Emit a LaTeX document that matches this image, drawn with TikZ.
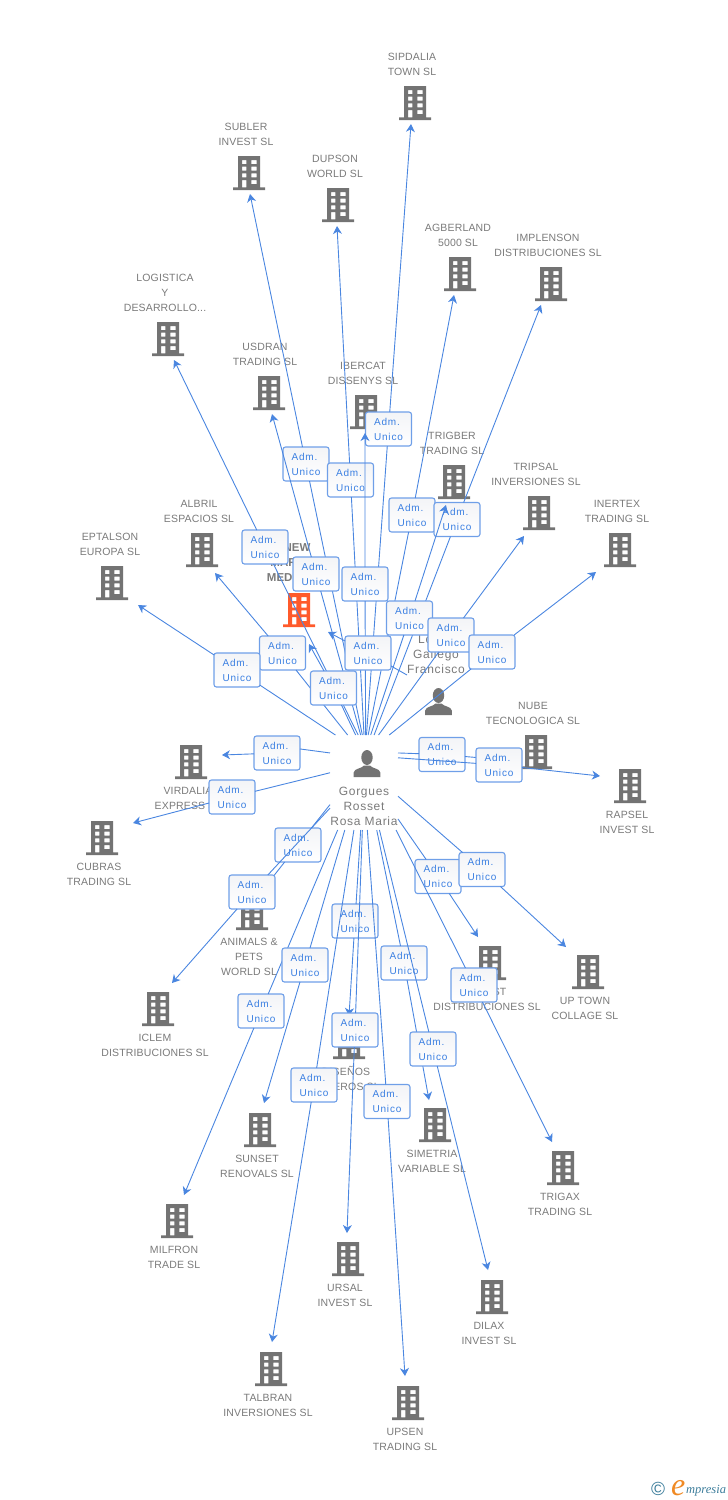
\documentclass[tikz,border=0pt]{standalone}
\usepackage{fontspec}
\setmainfont{Liberation Sans}
\newfontfamily\admfont[LetterSpace=8]{Liberation Sans}
\newfontfamily\namefont[LetterSpace=6]{Liberation Sans}
\newfontfamily\compfont[LetterSpace=1.5]{Liberation Sans}
\newfontfamily\logofont{Liberation Serif}
\usetikzlibrary{arrows.meta}
\definecolor{bldggray}{HTML}{737373}
\definecolor{bldgred}{HTML}{FF5A2B}
\definecolor{textgray}{HTML}{7A7A7A}
\definecolor{linkblue}{HTML}{4A86E0}
\definecolor{boxblue}{HTML}{6F9FE8}
\definecolor{admblue}{HTML}{3A7FE2}
\definecolor{boxtop}{HTML}{F3F4F7}
\definecolor{logoteal}{HTML}{3C7D9B}
\definecolor{logoorange}{HTML}{F08A24}
\tikzset{
 bldg/.style={minimum width=32pt,minimum height=34pt,inner sep=0pt,outer sep=0pt,
  path picture={\fill[#1,even odd rule,shift={(path picture bounding box.center)}]
   (-16,14.3) rectangle (16,17)
   (-11,-17) rectangle (11,14.3)
   (-7,-13) rectangle (-2.7,-9) (2.3,-13) rectangle (7.7,-9)
   (-7,-6.3) rectangle (-2.7,-2.3) (2.3,-6.3) rectangle (7.7,-2.3)
   (-7,0.3) rectangle (-2.7,4.3) (2.3,0.3) rectangle (7.7,4.3)
   (-7,7) rectangle (-2.7,14.3) (2.3,7) rectangle (7.7,11);}},
 person/.style={minimum width=28pt,minimum height=28pt,inner sep=0pt,outer sep=0pt,
  path picture={\fill[bldggray,shift={(path picture bounding box.center)}]
   (0,-6) ellipse (5.7 and 7.5)
   (-13.3,13.5) -- (-13.3,9) .. controls (-13,5) and (-5,5) .. (-3,2) -- (3,2)
   .. controls (5,5) and (13,5) .. (13.3,9) -- (13.3,13.5) -- cycle;}},
 comp/.style={inner sep=0pt,align=center,text=textgray,font=\compfont\fontsize{10.5}{15}\selectfont},
 pname/.style={inner sep=0pt,align=center,text=textgray,font=\namefont\fontsize{12}{15}\selectfont},
 adm/.style={draw=boxblue,line width=1.1pt,rounded corners=2.5pt,top color=boxtop,bottom color=white,
  minimum width=46pt,minimum height=34pt,inner sep=0pt,outer sep=0pt,align=left,text=admblue,
  font=\admfont\fontsize{10}{15}\selectfont},
 link/.style={draw=linkblue,line width=0.9pt,-{Stealth[length=8pt,width=9pt,inset=2.5pt]}}
}
\begin{document}
\begin{tikzpicture}[x=1pt,y=-1pt]
 \useasboundingbox (0,0) rectangle (728,1500);
 \node[bldg=bldggray] (sipdalia) at (415,103) {};
 \node[comp] (txtsipdalia) at (412,64.5) {SIPDALIA\\TOWN SL};
 \node[bldg=bldggray] (subler) at (249,173) {};
 \node[comp] (txtsubler) at (246,134.5) {SUBLER\\INVEST SL};
 \node[bldg=bldggray] (dupson) at (338,205) {};
 \node[comp] (txtdupson) at (335,166.5) {DUPSON\\WORLD SL};
 \node[bldg=bldggray] (agberland) at (460,274) {};
 \node[comp] (txtagberland) at (458,235.5) {AGBERLAND\\5000 SL};
 \node[bldg=bldggray] (implenson) at (551,284) {};
 \node[comp] (txtimplenson) at (548,245.5) {IMPLENSON\\DISTRIBUCIONES SL};
 \node[bldg=bldggray] (logistica) at (168,339) {};
 \node[comp] (txtlogistica) at (165,293) {LOGISTICA\\Y\\DESARROLLO...};
 \node[bldg=bldggray] (usdran) at (269,393) {};
 \node[comp] (txtusdran) at (265,354.5) {USDRAN\\TRADING SL};
 \node[bldg=bldggray] (ibercat) at (366,412) {};
 \node[comp] (txtibercat) at (363,373.5) {IBERCAT\\DISSENYS SL};
 \node[bldg=bldggray] (trigber) at (454,482) {};
 \node[comp] (txttrigber) at (452,443.5) {TRIGBER\\TRADING SL};
 \node[bldg=bldggray] (tripsal) at (539,513) {};
 \node[comp] (txttripsal) at (536,474.5) {TRIPSAL\\INVERSIONES SL};
 \node[bldg=bldggray] (inertex) at (620,550) {};
 \node[comp] (txtinertex) at (617,511.5) {INERTEX\\TRADING SL};
 \node[bldg=bldggray] (albril) at (202,550) {};
 \node[comp] (txtalbril) at (199,511.5) {ALBRIL\\ESPACIOS SL};
 \node[bldg=bldggray] (eptalson) at (112,583) {};
 \node[comp] (txteptalson) at (110,544.5) {EPTALSON\\EUROPA SL};
 \node[bldg=bldgred] (newmar) at (299,610) {};
 \node[comp,font=\bfseries\fontsize{11.5}{15}\selectfont] (txtnewmar) at (297,563) {NEW\\MARINES\\MEDITERR};
 \node[bldg=bldggray] (nube) at (536,752) {};
 \node[comp] (txtnube) at (533,713.5) {NUBE\\TECNOLOGICA SL};
 \node[bldg=bldggray] (rapsel) at (630,786) {};
 \node[comp] (txtrapsel) at (627,822.5) {RAPSEL\\INVEST SL};
 \node[bldg=bldggray] (virdalia) at (191,762) {};
 \node[comp] (txtvirdalia) at (188,798.5) {VIRDALIA\\EXPRESS SL};
 \node[bldg=bldggray] (cubras) at (102,838) {};
 \node[comp] (txtcubras) at (99,874.5) {CUBRAS\\TRADING SL};
 \node[bldg=bldggray] (animals) at (252,913) {};
 \node[comp] (txtanimals) at (249,957) {ANIMALS \&\\PETS\\WORLD SL};
 \node[bldg=bldggray] (iclem) at (158,1009) {};
 \node[comp] (txticlem) at (155,1045.5) {ICLEM\\DISTRIBUCIONES SL};
 \node[bldg=bldggray] (invest) at (490,963) {};
 \node[comp] (txtinvest) at (487,999.5) {INVEST\\DISTRIBUCIONES SL};
 \node[bldg=bldggray] (uptown) at (588,972) {};
 \node[comp] (txtuptown) at (585,1008.5) {UP TOWN\\COLLAGE SL};
 \node[bldg=bldggray] (disenos) at (349,1042) {};
 \node[comp] (txtdisenos) at (346,1078.5) {DISEÑOS\\JOYEROS SL};
 \node[bldg=bldggray] (sunset) at (260,1130) {};
 \node[comp] (txtsunset) at (257,1166.5) {SUNSET\\RENOVALS SL};
 \node[bldg=bldggray] (simetria) at (435,1125) {};
 \node[comp] (txtsimetria) at (432,1161.5) {SIMETRIA\\VARIABLE SL};
 \node[bldg=bldggray] (trigax) at (563,1168) {};
 \node[comp] (txttrigax) at (560,1204.5) {TRIGAX\\TRADING SL};
 \node[bldg=bldggray] (milfron) at (177,1221) {};
 \node[comp] (txtmilfron) at (174,1257.5) {MILFRON\\TRADE SL};
 \node[bldg=bldggray] (ursal) at (348,1259) {};
 \node[comp] (txtursal) at (345,1295.5) {URSAL\\INVEST SL};
 \node[bldg=bldggray] (dilax) at (492,1297) {};
 \node[comp] (txtdilax) at (489,1333.5) {DILAX\\INVEST SL};
 \node[bldg=bldggray] (talbran) at (271,1369) {};
 \node[comp] (txttalbran) at (268,1405.5) {TALBRAN\\INVERSIONES SL};
 \node[bldg=bldggray] (upsen) at (408,1403) {};
 \node[comp] (txtupsen) at (405,1439.5) {UPSEN\\TRADING SL};
 \node[person] (rosaicon) at (367,763.5) {};
 \node[pname] (rosatxt) at (364,806) {Gorgues\\Rosset\\Rosa Maria};
 \node[person] (gallegoicon) at (438.5,701.5) {};
 \node[pname] (gallegotxt) at (436,654) {Lopez\\Gallego\\Francisco};
 \node[minimum width=68pt,minimum height=95pt,inner sep=0pt,outer sep=0pt] (rosa) at (364,782.5) {};
 \coordinate (gallego) at (407,675);
 \coordinate (tipsipdalia) at (411,124);
 \coordinate (tipsubler) at (250,194);
 \coordinate (tipdupson) at (337,226);
 \coordinate (tipagberland) at (454,295);
 \coordinate (tipimplenson) at (541,305);
 \coordinate (tiplogistica) at (174,360);
 \coordinate (tipusdran) at (272,414);
 \coordinate (tipibercat) at (365,433);
 \coordinate (tiptrigber) at (446,505);
 \coordinate (tiptripsal) at (524,536);
 \coordinate (tipinertex) at (596,572);
 \coordinate (tipalbril) at (215,573);
 \coordinate (tipeptalson) at (138,605);
 \coordinate (tipnewmar) at (309,644);
 \coordinate (tipgallego) at (328,632);
 \coordinate (tipnube) at (505,760);
 \coordinate (tiprapsel) at (600,776);
 \coordinate (tipvirdalia) at (222,755);
 \coordinate (tipcubras) at (133,823);
 \coordinate (tipanimals) at (265,887);
 \coordinate (tipiclem) at (172,983);
 \coordinate (tipinvest) at (478,937);
 \coordinate (tipuptown) at (566,947);
 \coordinate (tipdisenos) at (349,1016);
 \coordinate (tipsunset) at (264,1103);
 \coordinate (tipsimetria) at (429,1100);
 \coordinate (tiptrigax) at (552,1142);
 \coordinate (tipmilfron) at (184,1195);
 \coordinate (tipursal) at (347,1233);
 \coordinate (tipdilax) at (488,1270);
 \coordinate (tiptalbran) at (272,1342);
 \coordinate (tipupsen) at (405,1376);
 \node[adm] (admsipdalia) at (388.5,429) {Adm.\\Unico};
 \draw[link] (rosa.87) -- (admsipdalia) -- (tipsipdalia);
 \node[adm] (admsubler) at (306,464) {Adm.\\Unico};
 \draw[link] (rosa.92.4) -- (admsubler) -- (tipsubler);
 \node[adm] (admdupson) at (350.5,480) {Adm.\\Unico};
 \draw[link] (rosa.90) -- (admdupson) -- (tipdupson);
 \node[adm] (admagberland) at (412,515) {Adm.\\Unico};
 \draw[link] (rosa.85.2) -- (admagberland) -- (tipagberland);
 \node[adm] (admimplenson) at (457,519.5) {Adm.\\Unico};
 \draw[link] (rosa.78.1) -- (admimplenson) -- (tipimplenson);
 \node[adm] (admlogistica) at (265,547) {Adm.\\Unico};
 \draw[link] (rosa.97.2) -- (admlogistica) -- (tiplogistica);
 \node[adm] (admusdran) at (316,574) {Adm.\\Unico};
 \draw[link] (rosa.94.8) -- (admusdran) -- (tipusdran);
 \node[adm] (admibercat) at (365,584) {Adm.\\Unico};
 \draw[link] (rosa.88.8) -- (admibercat) -- (tipibercat);
 \node[adm] (admtrigber) at (409.5,618) {Adm.\\Unico};
 \draw[link] (rosa.82.8) -- (admtrigber) -- (tiptrigber);
 \node[adm] (admtripsal) at (451,635) {Adm.\\Unico};
 \draw[link] (rosa.73.6) -- (admtripsal) -- (tiptripsal);
 \node[adm] (adminertex) at (492,652) {Adm.\\Unico};
 \draw[link] (rosa.62.2) -- (adminertex) -- (tipinertex);
 \node[adm] (admalbril) at (282.5,653) {Adm.\\Unico};
 \draw[link] (rosa.109.7) -- (admalbril) -- (tipalbril);
 \node[adm] (admeptalson) at (237,670) {Adm.\\Unico};
 \draw[link] (rosa.121.4) -- (admeptalson) -- (tipeptalson);
 \node[adm] (admnewmar) at (333.5,688) {Adm.\\Unico};
 \draw[link] (rosa.100.7) -- (admnewmar) -- (tipnewmar);
 \node[adm] (admgallego) at (368,653) {Adm.\\Unico};
 \draw[link] (gallego) -- (admgallego) -- (tipgallego);
 \node[adm] (admvirdalia) at (277,753) {Adm.\\Unico};
 \draw[link] (rosa.139) -- (admvirdalia.10) (admvirdalia) -- (tipvirdalia);
 \node[adm] (admcubras) at (232,797) {Adm.\\Unico};
 \draw[link] (rosa.164.4) -- (admcubras) -- (tipcubras);
 \node[adm] (admnube) at (442,754.5) {Adm.\\Unico};
 \draw[link] (rosa.41) -- (admnube) -- (tipnube);
 \node[adm] (admrapsel) at (499,765) {Adm.\\Unico};
 \draw[link] (rosa.36.9) -- (admrapsel) -- (tiprapsel);
 \node[adm] (admanimals) at (298,845) {Adm.\\Unico};
 \draw[link] (rosa.213.5) -- (admanimals) -- (tipanimals);
 \node[adm] (admiclem) at (252,892) {Adm.\\Unico};
 \draw[link] (rosa.217.9) -- (admiclem) -- (tipiclem);
 \node[adm] (admmilfron) at (261,1011) {Adm.\\Unico};
 \draw[link] (rosa.241.3) -- (admmilfron) -- (tipmilfron);
 \node[adm] (admsunset) at (305,965) {Adm.\\Unico};
 \draw[link] (rosa.248.2) -- (admsunset) -- (tipsunset);
 \node[adm] (admdisenos) at (355,921) {Adm.\\Unico};
 \draw[link] (rosa.266.4) -- (admdisenos) -- (tipdisenos);
 \node[adm] (admursal) at (355,1030) {Adm.\\Unico};
 \draw[link] (rosa.268.2) -- (admursal) -- (tipursal);
 \node[adm] (admtalbran) at (314,1085) {Adm.\\Unico};
 \draw[link] (rosa.258.1) -- (admtalbran) -- (tiptalbran);
 \node[adm] (admupsen) at (387,1101.5) {Adm.\\Unico};
 \draw[link] (rosa.274.8) -- (admupsen) -- (tipupsen);
 \node[adm] (admsimetria) at (404,963) {Adm.\\Unico};
 \draw[link] (rosa.285.3) -- (admsimetria) -- (tipsimetria);
 \node[adm] (admdilax) at (433,1049) {Adm.\\Unico};
 \draw[link] (rosa.288.6) -- (admdilax) -- (tipdilax);
 \node[adm] (adminvest) at (438,876.5) {Adm.\\Unico};
 \draw[link] (rosa.313) -- (adminvest) -- (tipinvest);
 \node[adm] (admtrigax) at (474,985) {Adm.\\Unico};
 \draw[link] (rosa.304) -- (admtrigax) -- (tiptrigax);
 \node[adm] (admuptown) at (482,869.5) {Adm.\\Unico};
 \draw[link] (rosa.338.3) -- (admuptown) -- (tipuptown);
 \node[inner sep=0pt,text=logoteal,font=\fontsize{19}{19}\selectfont] (logoc) at (658,1489) {©};
 \node[inner sep=0pt,text=logoorange,font=\logofont\itshape\fontsize{32}{32}\selectfont,anchor=base west] (logoe) at (671,1495) {e};
 \node[inner sep=0pt,text=logoteal,font=\logofont\itshape\fontsize{12.5}{14}\selectfont,anchor=base west] (logotxt) at (686,1493) {mpresia};
\end{tikzpicture}
\end{document}
